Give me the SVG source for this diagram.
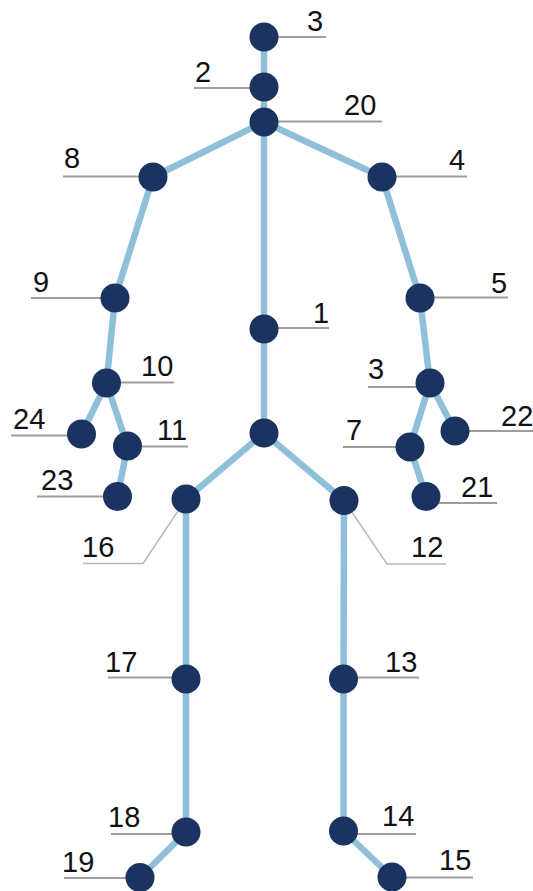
<svg xmlns="http://www.w3.org/2000/svg" width="533" height="891" viewBox="0 0 533 891">
<style>
.bone{stroke:#8fbfd9;stroke-width:6.5;stroke-linecap:round;fill:none}
.lead{stroke:#9e9e9e;stroke-width:2;fill:none}
.lead2{stroke:#b8b8b8;stroke-width:1.5;fill:none}
.j{fill:#1b3360}
text{font-family:"Liberation Sans",Arial,sans-serif;font-size:29px;fill:#111}
</style>
<rect width="533" height="891" fill="#fff"/>
<g id="connectors">
<line class="bone" x1="264" y1="37" x2="264" y2="87"/>
<line class="bone" x1="264" y1="87" x2="264" y2="122"/>
<line class="bone" x1="264" y1="122" x2="153" y2="177"/>
<line class="bone" x1="264" y1="122" x2="382" y2="177"/>
<line class="bone" x1="264" y1="122" x2="264" y2="433"/>
<line class="bone" x1="153" y1="177" x2="115" y2="298"/>
<line class="bone" x1="115" y1="298" x2="106.5" y2="383"/>
<line class="bone" x1="106.5" y1="383" x2="81.5" y2="434"/>
<line class="bone" x1="106.5" y1="383" x2="127.5" y2="446"/>
<line class="bone" x1="127.5" y1="446" x2="117.5" y2="496.5"/>
<line class="bone" x1="382" y1="177" x2="420" y2="298"/>
<line class="bone" x1="420" y1="298" x2="430" y2="383"/>
<line class="bone" x1="430" y1="383" x2="410" y2="447"/>
<line class="bone" x1="430" y1="383" x2="455" y2="431"/>
<line class="bone" x1="410" y1="447" x2="426" y2="496.5"/>
<line class="bone" x1="264" y1="433" x2="186" y2="499"/>
<line class="bone" x1="264" y1="433" x2="344" y2="500.5"/>
<line class="bone" x1="186" y1="499" x2="186" y2="679"/>
<line class="bone" x1="186" y1="679" x2="186" y2="832"/>
<line class="bone" x1="186" y1="832" x2="140" y2="877.5"/>
<line class="bone" x1="344" y1="500.5" x2="343.5" y2="679"/>
<line class="bone" x1="343.5" y1="679" x2="343.5" y2="831"/>
<line class="bone" x1="343.5" y1="831" x2="392" y2="877"/>
</g>
<g id="n3"><line class="lead" x1="264" y1="37" x2="326" y2="37"/><circle class="j" cx="264" cy="37" r="14.5"/><text x="307" y="31">3</text></g>
<g id="n2"><line class="lead" x1="194" y1="88" x2="264" y2="88"/><circle class="j" cx="264" cy="87" r="14.5"/><text x="195" y="82">2</text></g>
<g id="n20"><line class="lead" x1="264" y1="121.5" x2="382" y2="121.5"/><circle class="j" cx="264" cy="122" r="14.5"/><text x="344" y="115">20</text></g>
<g id="n8"><line class="lead" x1="63" y1="176.5" x2="153" y2="176.5"/><circle class="j" cx="153" cy="177" r="14.5"/><text x="64" y="168">8</text></g>
<g id="n4"><line class="lead" x1="382" y1="176.5" x2="467" y2="176.5"/><circle class="j" cx="382" cy="177" r="14.5"/><text x="449" y="169.5">4</text></g>
<g id="n9"><line class="lead" x1="31" y1="298" x2="115" y2="298"/><circle class="j" cx="115" cy="298" r="14.5"/><text x="33" y="291.5">9</text></g>
<g id="n5"><line class="lead" x1="420" y1="297.5" x2="508" y2="297.5"/><circle class="j" cx="420" cy="298" r="14.5"/><text x="491" y="292.5">5</text></g>
<g id="n1"><line class="lead" x1="264" y1="328" x2="329" y2="328"/><circle class="j" cx="264" cy="329" r="14.5"/><text x="313" y="323">1</text></g>
<g id="n10"><line class="lead" x1="106" y1="382.5" x2="174" y2="382.5"/><circle class="j" cx="106.5" cy="383" r="14.5"/><text x="141" y="376">10</text></g>
<g id="n3b"><line class="lead" x1="368" y1="387" x2="430" y2="387"/><circle class="j" cx="430" cy="383" r="14.5"/><text x="368" y="378.5">3</text></g>
<g id="n24"><line class="lead" x1="11" y1="435.5" x2="81" y2="435.5"/><circle class="j" cx="81.5" cy="434" r="14.5"/><text x="13" y="429">24</text></g>
<g id="n11"><line class="lead" x1="127" y1="446.5" x2="188" y2="446.5"/><circle class="j" cx="127.5" cy="446" r="14.5"/><text x="157" y="440">11</text></g>
<g id="n7"><line class="lead" x1="343" y1="447" x2="410" y2="447"/><circle class="j" cx="410" cy="447" r="14.5"/><text x="346" y="440">7</text></g>
<g id="n22"><line class="lead" x1="455" y1="431" x2="533" y2="431"/><circle class="j" cx="455" cy="431" r="14.5"/><text x="501" y="426">22</text></g>
<g id="hip"><circle class="j" cx="264" cy="433" r="14.5"/></g>
<g id="n23"><line class="lead" x1="37" y1="496.5" x2="117" y2="496.5"/><circle class="j" cx="117.5" cy="496.5" r="14.5"/><text x="41" y="490">23</text></g>
<g id="n21"><line class="lead" x1="426" y1="503" x2="497" y2="503"/><circle class="j" cx="426" cy="496.5" r="14.5"/><text x="461" y="496.5">21</text></g>
<g id="n16"><polyline class="lead2" points="186,499 143,563.5 83,563.5"/><circle class="j" cx="186" cy="499" r="14.5"/><text x="82" y="557">16</text></g>
<g id="n12"><polyline class="lead2" points="344,500.5 387,564 446,564"/><circle class="j" cx="344" cy="500.5" r="14.5"/><text x="411" y="557">12</text></g>
<g id="n17"><line class="lead" x1="108" y1="677.5" x2="186" y2="677.5"/><circle class="j" cx="186" cy="679" r="14.5"/><text x="105" y="671.5">17</text></g>
<g id="n13"><line class="lead" x1="343" y1="677.5" x2="419" y2="677.5"/><circle class="j" cx="343.5" cy="679" r="14.5"/><text x="385" y="671.5">13</text></g>
<g id="n18"><line class="lead" x1="111" y1="834" x2="186" y2="834"/><circle class="j" cx="186" cy="832" r="14.5"/><text x="108" y="826.5">18</text></g>
<g id="n14"><line class="lead" x1="343" y1="834" x2="416" y2="834"/><circle class="j" cx="343.5" cy="831" r="14.5"/><text x="382" y="825.5">14</text></g>
<g id="n19"><line class="lead" x1="64" y1="878" x2="140" y2="878"/><circle class="j" cx="140" cy="877.5" r="14.5"/><text x="62" y="871.5">19</text></g>
<g id="n15"><line class="lead" x1="392" y1="877.5" x2="473" y2="877.5"/><circle class="j" cx="392" cy="877" r="14.5"/><text x="439" y="870">15</text></g>
</svg>
